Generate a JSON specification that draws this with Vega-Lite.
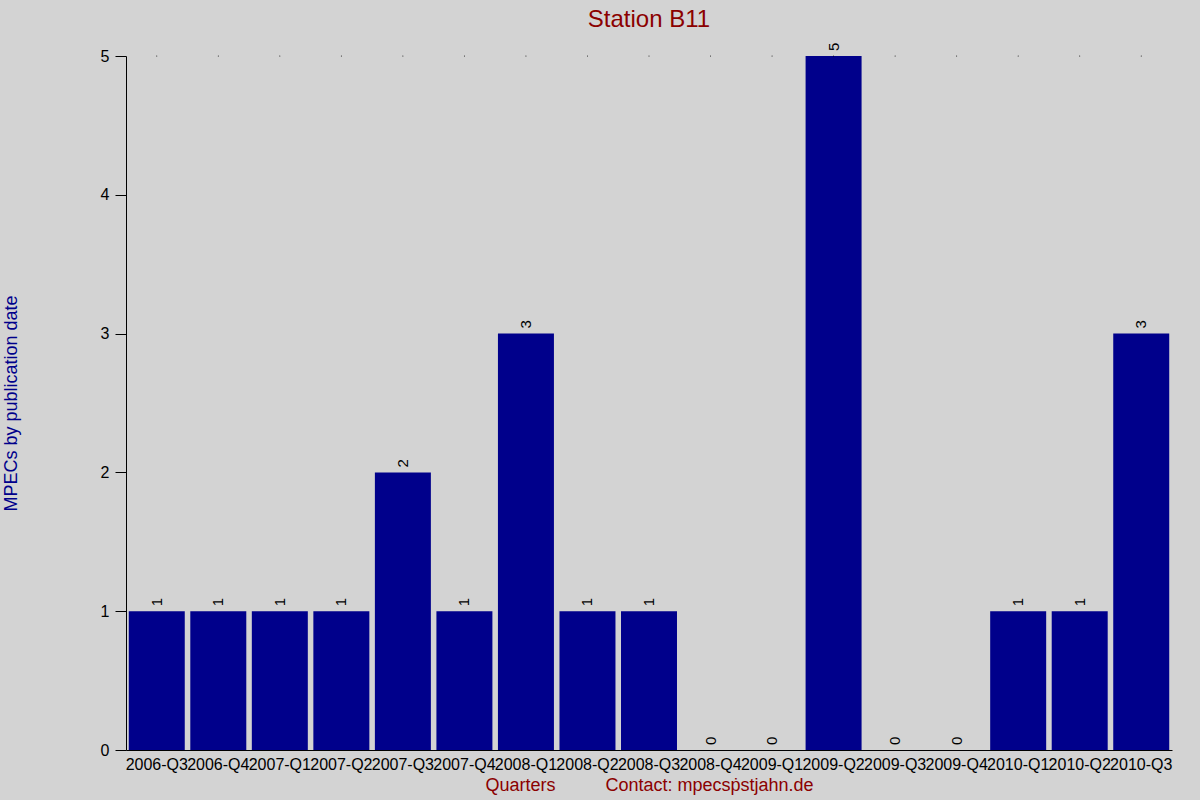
{
  "$schema": "https://vega.github.io/schema/vega-lite/v6.json",
  "width": 1046,
  "height": 694,
  "autosize": {"type": "none"},
  "padding": {"left": 126, "top": 56, "right": 28, "bottom": 50},
  "background": "#d3d3d3",
  "title": {
    "text": "Station B11",
    "font": "Liberation Sans",
    "fontSize": 24,
    "fontWeight": "normal",
    "color": "#8b0000",
    "anchor": "middle",
    "offset": 11
  },
  "data": {
    "values": [
      {"quarter": "2006-Q3", "mpecs": 1},
      {"quarter": "2006-Q4", "mpecs": 1},
      {"quarter": "2007-Q1", "mpecs": 1},
      {"quarter": "2007-Q2", "mpecs": 1},
      {"quarter": "2007-Q3", "mpecs": 2},
      {"quarter": "2007-Q4", "mpecs": 1},
      {"quarter": "2008-Q1", "mpecs": 3},
      {"quarter": "2008-Q2", "mpecs": 1},
      {"quarter": "2008-Q3", "mpecs": 1},
      {"quarter": "2008-Q4", "mpecs": 0},
      {"quarter": "2009-Q1", "mpecs": 0},
      {"quarter": "2009-Q2", "mpecs": 5},
      {"quarter": "2009-Q3", "mpecs": 0},
      {"quarter": "2009-Q4", "mpecs": 0},
      {"quarter": "2010-Q1", "mpecs": 1},
      {"quarter": "2010-Q2", "mpecs": 1},
      {"quarter": "2010-Q3", "mpecs": 3}
    ]
  },
  "encoding": {
    "x": {
      "field": "quarter",
      "type": "ordinal",
      "sort": null,
      "scale": {"paddingInner": 0.09, "paddingOuter": 0.045},
      "axis": {
        "title": "Quarters\u00a0\u00a0\u00a0\u00a0\u00a0\u00a0\u00a0\u00a0\u00a0\u00a0Contact: mpecs\u1e57stjahn.de",
        "titleColor": "#8b0000",
        "titleFont": "Liberation Sans",
        "titleFontSize": 18,
        "titleFontWeight": "normal",
        "titlePadding": 4,
        "labelAngle": 0,
        "labelFont": "Liberation Sans",
        "labelFontSize": 16,
        "labelColor": "#000000",
        "labelPadding": 6,
        "labelOverlap": false,
        "labelBound": false,
        "ticks": false,
        "domainColor": "#000000",
        "grid": false
      }
    },
    "y": {
      "field": "mpecs",
      "type": "quantitative",
      "scale": {"domain": [0, 5], "nice": false},
      "axis": {
        "title": "MPECs by publication date",
        "titleColor": "#00008b",
        "titleFont": "Liberation Sans",
        "titleFontSize": 18,
        "titleFontWeight": "normal",
        "titleX": -106,
        "titleY": 347,
        "values": [0, 1, 2, 3, 4, 5],
        "format": "d",
        "labelFont": "Liberation Sans",
        "labelFontSize": 16,
        "labelColor": "#000000",
        "labelPadding": 6,
        "tickSize": 11,
        "tickColor": "#000000",
        "domainColor": "#000000",
        "grid": false
      }
    }
  },
  "layer": [
    {
      "mark": {"type": "bar", "color": "#00008b"}
    },
    {
      "mark": {"type": "point", "filled": true, "size": 1, "color": "#000000", "opacity": 1},
      "encoding": {"y": {"datum": 5}}
    },
    {
      "mark": {
        "type": "text",
        "angle": -90,
        "align": "left",
        "baseline": "middle",
        "dx": 5,
        "font": "Liberation Sans",
        "fontSize": 15,
        "color": "#000000"
      },
      "encoding": {"text": {"field": "mpecs", "type": "quantitative"}}
    }
  ],
  "config": {"view": {"stroke": null}}
}
